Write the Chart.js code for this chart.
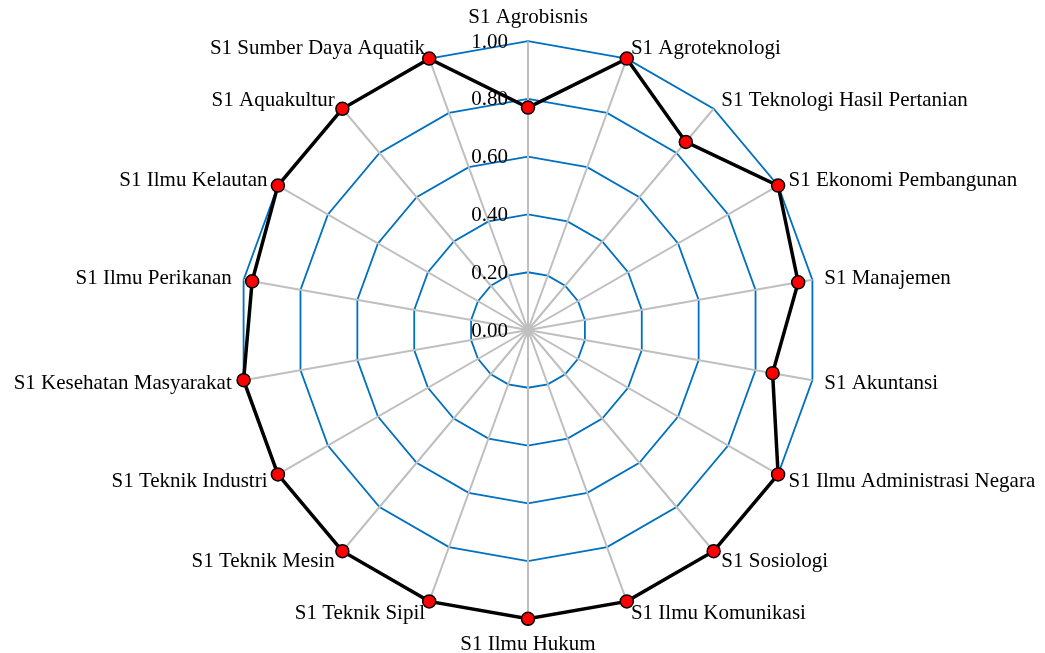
<!DOCTYPE html>
<html>
<head>
<meta charset="utf-8">
<script src="https://cdn.jsdelivr.net/npm/chart.js@4.4.1/dist/chart.umd.min.js"></script>
<style>
  html, body { margin: 0; padding: 0; background: #fff; }
  #wrap { width: 1045px; height: 653px; position: relative; }
</style>
</head>
<body>
<div id="wrap"><canvas id="radar"></canvas></div>
<script>
// categories, clockwise from the top
const programs = [
  'S1 Agrobisnis', 'S1 Agroteknologi', 'S1 Teknologi Hasil Pertanian',
  'S1 Ekonomi Pembangunan', 'S1 Manajemen', 'S1 Akuntansi',
  'S1 Ilmu Administrasi Negara', 'S1 Sosiologi', 'S1 Ilmu Komunikasi',
  'S1 Ilmu Hukum', 'S1 Teknik Sipil', 'S1 Teknik Mesin',
  'S1 Teknik Industri', 'S1 Kesehatan Masyarakat', 'S1 Ilmu Perikanan',
  'S1 Ilmu Kelautan', 'S1 Aquakultur', 'S1 Sumber Daya Aquatik'
];

const scores = [
  0.77, 1.00, 0.85,
  1.00, 0.95, 0.86,
  1.00, 1.00, 1.00,
  1.00, 1.00, 1.00,
  1.00, 1.00, 0.97,
  1.00, 1.00, 1.00
];

const tickValues = [0, 0.2, 0.4, 0.6, 0.8, 1.0];
const tickLabels = ['0.00', '0.20', '0.40', '0.60', '0.80', '1.00'];

const serif = "'Liberation Serif', 'Times New Roman', serif";

// tick labels left of the vertical axis, category labels placed the way
// the original spreadsheet does it (vertically centred on the spoke end)
const labelPlugin = {
  id: 'labels',
  afterDraw(chart) {
    const scale = chart.scales.r;
    const ctx = chart.ctx;
    ctx.save();
    ctx.font = '21px ' + serif;
    ctx.fillStyle = '#000';

    ctx.textAlign = 'right';
    ctx.textBaseline = 'middle';
    tickValues.forEach((v, i) => {
      const d = scale.getDistanceFromCenterForValue(v);
      ctx.fillText(tickLabels[i], scale.xCenter - 20, scale.yCenter - d + 1);
    });

    programs.forEach((name, i) => {
      const a = scale.getIndexAngle(i);
      const p = scale.getPointPosition(i, scale.drawingArea + 12);
      const s = Math.sin(a);
      const c = Math.cos(a);
      let y = p.y + 1;
      if (Math.abs(s) < 0.01) {
        ctx.textAlign = 'center';
        y = c > 0 ? p.y - 12 : p.y + 14;
      } else {
        ctx.textAlign = s > 0 ? 'left' : 'right';
      }
      ctx.fillText(name, p.x, y);
    });
    ctx.restore();
  }
};

new Chart(document.getElementById('radar').getContext('2d'), {
  type: 'radar',
  data: {
    labels: programs,
    datasets: [{
      label: 'Skor',
      data: scores,
      borderColor: '#000',
      borderWidth: 3.5,
      backgroundColor: 'rgba(0,0,0,0)',
      fill: false,
      pointRadius: 6.5,
      pointBackgroundColor: '#ff0000',
      pointBorderColor: '#000',
      pointBorderWidth: 1.5,
      tension: 0
    }]
  },
  options: {
    responsive: true,
    maintainAspectRatio: false,
    animation: false,
    layout: { padding: { top: 9, bottom: 0, left: 10, right: 6 } },
    plugins: {
      legend: { display: false },
      tooltip: { enabled: false }
    },
    scales: {
      r: {
        min: 0,
        max: 1,
        ticks: { stepSize: 0.2, display: false },
        grid: { color: '#0070C0', lineWidth: 1.8, circular: false },
        angleLines: { color: '#BFBFBF', lineWidth: 2 },
        pointLabels: {
          // kept for layout only, drawn by the plugin above
          font: { family: serif, size: 21 },
          color: 'rgba(0,0,0,0)',
          padding: 8
        }
      }
    }
  },
  plugins: [labelPlugin]
});
</script>
</body>
</html>
